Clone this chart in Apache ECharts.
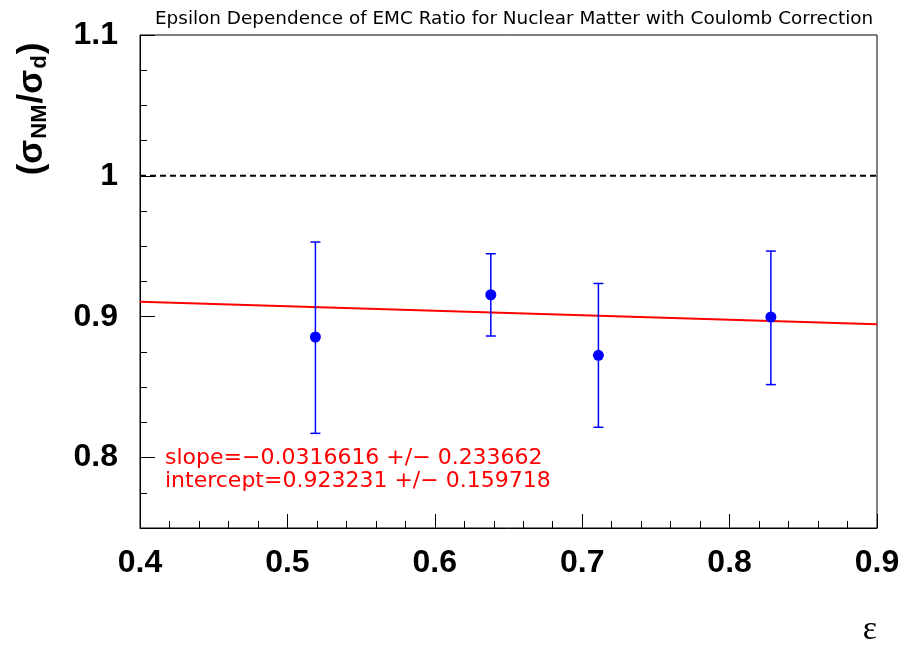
<!DOCTYPE html>
<html><head><meta charset="utf-8">
<script src="https://cdn.jsdelivr.net/npm/echarts@6/dist/echarts.min.js"></script>
<style>html,body{margin:0;padding:0;background:#fff}#c{width:904px;height:648px}</style>
</head><body><div id="c"></div>
<script>
const titleText = 'Epsilon Dependence of EMC Ratio for Nuclear Matter with Coulomb Correction';
const epsilon = [0.519, 0.638, 0.711, 0.828];
const ratio = [0.8856, 0.9156, 0.8726, 0.8998];
const errLow = [0.8172, 0.8863, 0.8215, 0.8518];
const errHigh = [0.9530, 0.9447, 0.9236, 0.9466];
const fitX = [0.4, 0.9];
const fitY = [0.9106, 0.8947];
const refX = [0.4, 0.9];
const refY = [1.0, 1.0];
const yMajorTicks = [0.8, 0.9, 1.0, 1.1];
const fitLines = ['slope=\u22120.0316616 +/\u2212 0.233662', 'intercept=0.923231 +/\u2212 0.159718'];

const chart = echarts.init(document.getElementById('c'), null, {renderer: 'canvas'});
const tickFont = {fontFamily: 'Liberation Sans', fontWeight: 'bold', fontSize: 32, color: '#000'};
const option = {
  animation: false,
  backgroundColor: '#fff',
  grid: {left: 140, right: 27, top: 35, bottom: 120, show: true, borderColor: '#000', borderWidth: 1, backgroundColor: 'transparent'},
  xAxis: {
    type: 'value', min: 0.4, max: 0.9, interval: 0.1,
    axisLine: {show: true, onZero: false, lineStyle: {color: '#000', width: 1}},
    axisTick: {show: true, inside: true, length: 14, lineStyle: {color: '#000', width: 1}},
    minorTick: {show: true, splitNumber: 5, length: 7, lineStyle: {color: '#000', width: 1}},
    splitLine: {show: false},
    axisLabel: Object.assign({margin: 19, formatter: v => v.toFixed(1)}, tickFont)
  },
  yAxis: [{
    type: 'value', min: 0.75, max: 1.1,
    axisLine: {show: true, onZero: false, lineStyle: {color: '#000', width: 1}},
    axisTick: {show: true, inside: true, length: 15, customValues: yMajorTicks, lineStyle: {color: '#000', width: 1}},
    splitLine: {show: false},
    axisLabel: Object.assign({margin: 22, customValues: yMajorTicks, formatter: v => (Math.abs(v - 1) < 1e-9 ? '1' : String(Math.round(v * 10) / 10))}, tickFont)
  }, {
    type: 'value', min: 0.75, max: 1.1, interval: 0.025, position: 'left', offset: 0,
    axisLine: {show: false},
    axisTick: {show: true, inside: true, length: 7, lineStyle: {color: '#000', width: 1}},
    splitLine: {show: false},
    axisLabel: {show: false}
  }],
  title: {
    text: titleText, left: 150, top: 5,
    textStyle: {fontFamily: 'DejaVu Sans', fontWeight: 'normal', fontSize: 18.4, color: '#000'}
  },
  graphic: [
    {type: 'text', x: 32, y: 109, rotation: Math.PI / 2,
     style: {text: '(\u03c3{sub|NM}/\u03c3{sub|d})', x: 0, y: 0, align: 'center', verticalAlign: 'middle',
       font: 'bold 35px "Liberation Sans"', fill: '#000',
       rich: {sub: {fontFamily: 'Liberation Sans', fontWeight: 'bold', fontSize: 22, verticalAlign: 'bottom', padding: [16, 1, 0, 1]}}}},
    {type: 'text', x: 870, y: 630, style: {text: '\u03b5', align: 'center', verticalAlign: 'middle', font: '34px "Liberation Serif"', fill: '#000'}},
    {type: 'text', x: 165, y: 458, style: {text: fitLines[0], align: 'left', verticalAlign: 'middle', font: '22px "DejaVu Sans"', fill: '#ff0000'}},
    {type: 'text', x: 165, y: 481, style: {text: fitLines[1], align: 'left', verticalAlign: 'middle', font: '22px "DejaVu Sans"', fill: '#ff0000'}}
  ],
  series: [
    {type: 'line', data: refX.map((x, i) => [x, refY[i]]), showSymbol: false, symbol: 'none',
     lineStyle: {color: '#000', width: 2, type: [6, 4]}, z: 2},
    {type: 'line', data: fitX.map((x, i) => [x, fitY[i]]), showSymbol: false, symbol: 'none',
     lineStyle: {color: '#ff0000', width: 2}, z: 3},
    {type: 'custom', z: 4,
     data: epsilon.map((x, i) => [x, errLow[i], errHigh[i]]),
     renderItem: function (params, api) {
       const lo = api.coord([api.value(0), api.value(1)]);
       const hi = api.coord([api.value(0), api.value(2)]);
       const w = 5;
       const st = {stroke: '#0000ff', lineWidth: 1.5};
       return {type: 'group', children: [
         {type: 'line', shape: {x1: lo[0], y1: lo[1], x2: hi[0], y2: hi[1]}, style: st},
         {type: 'line', shape: {x1: lo[0] - w, y1: lo[1], x2: lo[0] + w, y2: lo[1]}, style: st},
         {type: 'line', shape: {x1: hi[0] - w, y1: hi[1], x2: hi[0] + w, y2: hi[1]}, style: st}
       ]};
     }},
    {type: 'scatter', z: 5, data: epsilon.map((x, i) => [x, ratio[i]]), symbol: 'circle', symbolSize: 11,
     itemStyle: {color: '#0000ff', opacity: 1}}
  ]
};
chart.setOption(option);
</script></body></html>
